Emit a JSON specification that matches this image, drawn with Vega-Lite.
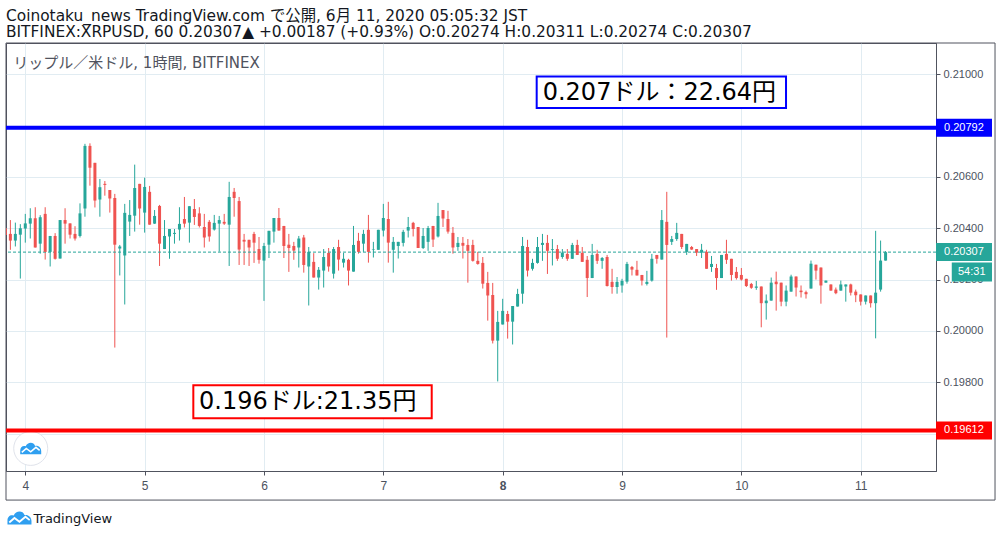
{
  "$schema": "https://vega.github.io/schema/vega-lite/v6.json",
  "width": 930,
  "height": 428,
  "autosize": "none",
  "padding": {"left": 6, "top": 43, "right": 66, "bottom": 66},
  "background": "#ffffff",
  "title": {
    "text": "Coinotaku_news TradingView.com で公開, 6月 11, 2020 05:05:32 JST",
    "subtitle": "BITFINEX:XRPUSD, 60 0.20307▲ +0.00187 (+0.93%) O:0.20274 H:0.20311 L:0.20274 C:0.20307",
    "anchor": "start",
    "frame": "group",
    "offset": 2,
    "font": "DejaVu Sans, Noto Sans CJK JP",
    "fontSize": 15.4,
    "fontWeight": "normal",
    "color": "#131722",
    "subtitleFont": "DejaVu Sans, Noto Sans CJK JP",
    "subtitleFontSize": 15.4,
    "subtitleColor": "#131722",
    "subtitlePadding": 1
  },
  "datasets": {
    "candles": [
      {"t":-4,"o":0.20400,"h":0.20406,"l":0.20370,"c":0.20374},
      {"t":-3,"o":0.20378,"h":0.20432,"l":0.20316,"c":0.20352},
      {"t":-2,"o":0.20352,"h":0.20422,"l":0.20329,"c":0.20378},
      {"t":-1,"o":0.20375,"h":0.20416,"l":0.20204,"c":0.20400},
      {"t":0,"o":0.20399,"h":0.20456,"l":0.20344,"c":0.20419},
      {"t":1,"o":0.20418,"h":0.20478,"l":0.20360,"c":0.20439},
      {"t":2,"o":0.20439,"h":0.20482,"l":0.20325,"c":0.20325},
      {"t":3,"o":0.20340,"h":0.20451,"l":0.20301,"c":0.20443},
      {"t":4,"o":0.20456,"h":0.20482,"l":0.20278,"c":0.20308},
      {"t":5,"o":0.20308,"h":0.20370,"l":0.20251,"c":0.20370},
      {"t":6,"o":0.20370,"h":0.20381,"l":0.20278,"c":0.20281},
      {"t":7,"o":0.20282,"h":0.20432,"l":0.20282,"c":0.20432},
      {"t":8,"o":0.20432,"h":0.20478,"l":0.20340,"c":0.20418},
      {"t":9,"o":0.20419,"h":0.20419,"l":0.20360,"c":0.20375},
      {"t":10,"o":0.20378,"h":0.20408,"l":0.20352,"c":0.20360},
      {"t":11,"o":0.20370,"h":0.20497,"l":0.20364,"c":0.20458},
      {"t":12,"o":0.20477,"h":0.20729,"l":0.20445,"c":0.20721},
      {"t":13,"o":0.20721,"h":0.20731,"l":0.20566,"c":0.20636},
      {"t":14,"o":0.20655,"h":0.20655,"l":0.20481,"c":0.20508},
      {"t":15,"o":0.20512,"h":0.20592,"l":0.20445,"c":0.20560},
      {"t":16,"o":0.20573,"h":0.20584,"l":0.20527,"c":0.20569},
      {"t":17,"o":0.20549,"h":0.20549,"l":0.20461,"c":0.20516},
      {"t":18,"o":0.20518,"h":0.20534,"l":0.19935,"c":0.20336},
      {"t":19,"o":0.20321,"h":0.20335,"l":0.20216,"c":0.20329},
      {"t":20,"o":0.20294,"h":0.20495,"l":0.20103,"c":0.20460},
      {"t":21,"o":0.20426,"h":0.20510,"l":0.20370,"c":0.20452},
      {"t":22,"o":0.20449,"h":0.20648,"l":0.20387,"c":0.20557},
      {"t":23,"o":0.20573,"h":0.20573,"l":0.20414,"c":0.20477},
      {"t":24,"o":0.20461,"h":0.20597,"l":0.20383,"c":0.20561},
      {"t":25,"o":0.20542,"h":0.20565,"l":0.20414,"c":0.20414},
      {"t":26,"o":0.20418,"h":0.20471,"l":0.20417,"c":0.20448},
      {"t":27,"o":0.20487,"h":0.20491,"l":0.20253,"c":0.20340},
      {"t":28,"o":0.20319,"h":0.20432,"l":0.20319,"c":0.20370},
      {"t":29,"o":0.20368,"h":0.20397,"l":0.20281,"c":0.20397},
      {"t":30,"o":0.20378,"h":0.20397,"l":0.20340,"c":0.20382},
      {"t":31,"o":0.20395,"h":0.20482,"l":0.20352,"c":0.20417},
      {"t":32,"o":0.20436,"h":0.20522,"l":0.20403,"c":0.20418},
      {"t":33,"o":0.20422,"h":0.20486,"l":0.20344,"c":0.20486},
      {"t":34,"o":0.20475,"h":0.20514,"l":0.20413,"c":0.20444},
      {"t":35,"o":0.20458,"h":0.20482,"l":0.20403,"c":0.20409},
      {"t":36,"o":0.20405,"h":0.20456,"l":0.20325,"c":0.20364},
      {"t":37,"o":0.20425,"h":0.20432,"l":0.20348,"c":0.20368},
      {"t":38,"o":0.20395,"h":0.20452,"l":0.20391,"c":0.20421},
      {"t":39,"o":0.20418,"h":0.20448,"l":0.20309,"c":0.20432},
      {"t":40,"o":0.20425,"h":0.20456,"l":0.20413,"c":0.20418},
      {"t":41,"o":0.20414,"h":0.20581,"l":0.20253,"c":0.20522},
      {"t":42,"o":0.20542,"h":0.20557,"l":0.20445,"c":0.20518},
      {"t":43,"o":0.20506,"h":0.20522,"l":0.20257,"c":0.20317},
      {"t":44,"o":0.20355,"h":0.20378,"l":0.20257,"c":0.20348},
      {"t":45,"o":0.20355,"h":0.20355,"l":0.20253,"c":0.20325},
      {"t":46,"o":0.20378,"h":0.20386,"l":0.20265,"c":0.20344},
      {"t":47,"o":0.20319,"h":0.20366,"l":0.20262,"c":0.20277},
      {"t":48,"o":0.20274,"h":0.20343,"l":0.20117,"c":0.20331},
      {"t":49,"o":0.20336,"h":0.20390,"l":0.20284,"c":0.20390},
      {"t":50,"o":0.20387,"h":0.20440,"l":0.20344,"c":0.20440},
      {"t":51,"o":0.20440,"h":0.20479,"l":0.20391,"c":0.20391},
      {"t":52,"o":0.20409,"h":0.20409,"l":0.20284,"c":0.20331},
      {"t":53,"o":0.20336,"h":0.20378,"l":0.20230,"c":0.20323},
      {"t":54,"o":0.20331,"h":0.20347,"l":0.20277,"c":0.20313},
      {"t":55,"o":0.20325,"h":0.20370,"l":0.20247,"c":0.20360},
      {"t":56,"o":0.20364,"h":0.20374,"l":0.20227,"c":0.20257},
      {"t":57,"o":0.20251,"h":0.20327,"l":0.20099,"c":0.20308},
      {"t":58,"o":0.20269,"h":0.20303,"l":0.20208,"c":0.20208},
      {"t":59,"o":0.20208,"h":0.20249,"l":0.20161,"c":0.20238},
      {"t":60,"o":0.20235,"h":0.20319,"l":0.20169,"c":0.20288},
      {"t":61,"o":0.20304,"h":0.20323,"l":0.20231,"c":0.20251},
      {"t":62,"o":0.20223,"h":0.20327,"l":0.20204,"c":0.20319},
      {"t":63,"o":0.20327,"h":0.20355,"l":0.20235,"c":0.20278},
      {"t":64,"o":0.20266,"h":0.20304,"l":0.20247,"c":0.20281},
      {"t":65,"o":0.20277,"h":0.20281,"l":0.20177,"c":0.20235},
      {"t":66,"o":0.20231,"h":0.20409,"l":0.20231,"c":0.20335},
      {"t":67,"o":0.20351,"h":0.20382,"l":0.20301,"c":0.20308},
      {"t":68,"o":0.20340,"h":0.20394,"l":0.20308,"c":0.20378},
      {"t":69,"o":0.20394,"h":0.20452,"l":0.20266,"c":0.20308},
      {"t":70,"o":0.20317,"h":0.20347,"l":0.20286,"c":0.20319},
      {"t":71,"o":0.20316,"h":0.20394,"l":0.20316,"c":0.20394},
      {"t":72,"o":0.20391,"h":0.20495,"l":0.20368,"c":0.20440},
      {"t":73,"o":0.20436,"h":0.20503,"l":0.20266,"c":0.20344},
      {"t":74,"o":0.20316,"h":0.20366,"l":0.20227,"c":0.20347},
      {"t":75,"o":0.20331,"h":0.20347,"l":0.20282,"c":0.20347},
      {"t":76,"o":0.20343,"h":0.20394,"l":0.20329,"c":0.20386},
      {"t":77,"o":0.20391,"h":0.20444,"l":0.20364,"c":0.20405},
      {"t":78,"o":0.20421,"h":0.20425,"l":0.20368,"c":0.20397},
      {"t":79,"o":0.20405,"h":0.20405,"l":0.20323,"c":0.20323},
      {"t":80,"o":0.20323,"h":0.20401,"l":0.20319,"c":0.20370},
      {"t":81,"o":0.20347,"h":0.20409,"l":0.20312,"c":0.20401},
      {"t":82,"o":0.20409,"h":0.20409,"l":0.20327,"c":0.20356},
      {"t":83,"o":0.20368,"h":0.20499,"l":0.20364,"c":0.20448},
      {"t":84,"o":0.20471,"h":0.20471,"l":0.20405,"c":0.20438},
      {"t":85,"o":0.20436,"h":0.20468,"l":0.20379,"c":0.20387},
      {"t":86,"o":0.20382,"h":0.20405,"l":0.20301,"c":0.20325},
      {"t":87,"o":0.20327,"h":0.20366,"l":0.20312,"c":0.20343},
      {"t":88,"o":0.20343,"h":0.20366,"l":0.20282,"c":0.20332},
      {"t":89,"o":0.20335,"h":0.20358,"l":0.20188,"c":0.20312},
      {"t":90,"o":0.20335,"h":0.20355,"l":0.20270,"c":0.20273},
      {"t":91,"o":0.20273,"h":0.20308,"l":0.20258,"c":0.20261},
      {"t":92,"o":0.20265,"h":0.20288,"l":0.20165,"c":0.20184},
      {"t":93,"o":0.20187,"h":0.20230,"l":0.20040,"c":0.20138},
      {"t":94,"o":0.20140,"h":0.20187,"l":0.19951,"c":0.19962},
      {"t":95,"o":0.19962,"h":0.20078,"l":0.19803,"c":0.20035},
      {"t":96,"o":0.20025,"h":0.20125,"l":0.20025,"c":0.20078},
      {"t":97,"o":0.20066,"h":0.20078,"l":0.19970,"c":0.20036},
      {"t":98,"o":0.20036,"h":0.20097,"l":0.19947,"c":0.20097},
      {"t":99,"o":0.20095,"h":0.20164,"l":0.20095,"c":0.20144},
      {"t":100,"o":0.20145,"h":0.20366,"l":0.20106,"c":0.20331},
      {"t":101,"o":0.20327,"h":0.20355,"l":0.20212,"c":0.20235},
      {"t":102,"o":0.20242,"h":0.20281,"l":0.20235,"c":0.20265},
      {"t":103,"o":0.20265,"h":0.20366,"l":0.20262,"c":0.20327},
      {"t":104,"o":0.20335,"h":0.20378,"l":0.20273,"c":0.20343},
      {"t":105,"o":0.20343,"h":0.20374,"l":0.20222,"c":0.20312},
      {"t":106,"o":0.20316,"h":0.20358,"l":0.20255,"c":0.20319},
      {"t":107,"o":0.20319,"h":0.20335,"l":0.20273,"c":0.20281},
      {"t":108,"o":0.20288,"h":0.20319,"l":0.20281,"c":0.20305},
      {"t":109,"o":0.20300,"h":0.20319,"l":0.20273,"c":0.20281},
      {"t":110,"o":0.20281,"h":0.20343,"l":0.20281,"c":0.20335},
      {"t":111,"o":0.20335,"h":0.20355,"l":0.20296,"c":0.20296},
      {"t":112,"o":0.20304,"h":0.20327,"l":0.20269,"c":0.20269},
      {"t":113,"o":0.20277,"h":0.20292,"l":0.20132,"c":0.20206},
      {"t":114,"o":0.20206,"h":0.20339,"l":0.20206,"c":0.20296},
      {"t":115,"o":0.20300,"h":0.20316,"l":0.20261,"c":0.20273},
      {"t":116,"o":0.20273,"h":0.20288,"l":0.20242,"c":0.20284},
      {"t":117,"o":0.20288,"h":0.20296,"l":0.20173,"c":0.20175},
      {"t":118,"o":0.20191,"h":0.20242,"l":0.20145,"c":0.20171},
      {"t":119,"o":0.20171,"h":0.20210,"l":0.20145,"c":0.20191},
      {"t":120,"o":0.20177,"h":0.20203,"l":0.20149,"c":0.20195},
      {"t":121,"o":0.20192,"h":0.20269,"l":0.20184,"c":0.20261},
      {"t":122,"o":0.20249,"h":0.20253,"l":0.20216,"c":0.20239},
      {"t":123,"o":0.20238,"h":0.20273,"l":0.20216,"c":0.20216},
      {"t":124,"o":0.20218,"h":0.20218,"l":0.20177,"c":0.20196},
      {"t":125,"o":0.20183,"h":0.20234,"l":0.20177,"c":0.20191},
      {"t":126,"o":0.20196,"h":0.20300,"l":0.20192,"c":0.20281},
      {"t":127,"o":0.20296,"h":0.20296,"l":0.20262,"c":0.20281},
      {"t":128,"o":0.20278,"h":0.20471,"l":0.20278,"c":0.20432},
      {"t":129,"o":0.20425,"h":0.20542,"l":0.19974,"c":0.20335},
      {"t":130,"o":0.20347,"h":0.20370,"l":0.20335,"c":0.20358},
      {"t":131,"o":0.20358,"h":0.20421,"l":0.20351,"c":0.20382},
      {"t":132,"o":0.20378,"h":0.20378,"l":0.20319,"c":0.20327},
      {"t":133,"o":0.20308,"h":0.20339,"l":0.20296,"c":0.20339},
      {"t":134,"o":0.20327,"h":0.20331,"l":0.20316,"c":0.20317},
      {"t":135,"o":0.20319,"h":0.20319,"l":0.20292,"c":0.20305},
      {"t":136,"o":0.20305,"h":0.20339,"l":0.20284,"c":0.20316},
      {"t":137,"o":0.20308,"h":0.20316,"l":0.20242,"c":0.20242},
      {"t":138,"o":0.20249,"h":0.20292,"l":0.20230,"c":0.20261},
      {"t":139,"o":0.20245,"h":0.20261,"l":0.20160,"c":0.20206},
      {"t":140,"o":0.20206,"h":0.20296,"l":0.20206,"c":0.20296},
      {"t":141,"o":0.20300,"h":0.20355,"l":0.20261,"c":0.20277},
      {"t":142,"o":0.20281,"h":0.20281,"l":0.20196,"c":0.20218},
      {"t":143,"o":0.20230,"h":0.20249,"l":0.20200,"c":0.20206},
      {"t":144,"o":0.20218,"h":0.20245,"l":0.20196,"c":0.20200},
      {"t":145,"o":0.20203,"h":0.20203,"l":0.20171,"c":0.20175},
      {"t":146,"o":0.20183,"h":0.20187,"l":0.20164,"c":0.20168},
      {"t":147,"o":0.20168,"h":0.20195,"l":0.20160,"c":0.20173},
      {"t":148,"o":0.20173,"h":0.20173,"l":0.20014,"c":0.20108},
      {"t":149,"o":0.20108,"h":0.20142,"l":0.20044,"c":0.20118},
      {"t":150,"o":0.20118,"h":0.20208,"l":0.20118,"c":0.20188},
      {"t":151,"o":0.20192,"h":0.20231,"l":0.20079,"c":0.20182},
      {"t":152,"o":0.20188,"h":0.20188,"l":0.20096,"c":0.20114},
      {"t":153,"o":0.20114,"h":0.20177,"l":0.20096,"c":0.20157},
      {"t":154,"o":0.20153,"h":0.20219,"l":0.20153,"c":0.20212},
      {"t":155,"o":0.20212,"h":0.20212,"l":0.20134,"c":0.20169},
      {"t":156,"o":0.20157,"h":0.20177,"l":0.20130,"c":0.20151},
      {"t":157,"o":0.20151,"h":0.20157,"l":0.20126,"c":0.20143},
      {"t":158,"o":0.20165,"h":0.20274,"l":0.20165,"c":0.20262},
      {"t":159,"o":0.20258,"h":0.20258,"l":0.20200,"c":0.20235},
      {"t":160,"o":0.20247,"h":0.20247,"l":0.20106,"c":0.20177},
      {"t":161,"o":0.20188,"h":0.20196,"l":0.20188,"c":0.20196},
      {"t":162,"o":0.20181,"h":0.20181,"l":0.20157,"c":0.20157},
      {"t":163,"o":0.20161,"h":0.20169,"l":0.20143,"c":0.20147},
      {"t":164,"o":0.20157,"h":0.20196,"l":0.20157,"c":0.20181},
      {"t":165,"o":0.20173,"h":0.20181,"l":0.20114,"c":0.20181},
      {"t":166,"o":0.20181,"h":0.20184,"l":0.20138,"c":0.20149},
      {"t":167,"o":0.20153,"h":0.20161,"l":0.20112,"c":0.20139},
      {"t":168,"o":0.20142,"h":0.20142,"l":0.20099,"c":0.20114},
      {"t":169,"o":0.20114,"h":0.20138,"l":0.20103,"c":0.20138},
      {"t":170,"o":0.20138,"h":0.20138,"l":0.20091,"c":0.20108},
      {"t":171,"o":0.20108,"h":0.20390,"l":0.19971,"c":0.20149},
      {"t":172,"o":0.20161,"h":0.20352,"l":0.20153,"c":0.20274},
      {"t":173,"o":0.20274,"h":0.20311,"l":0.20274,"c":0.20307}
    ],
    "levels": [
      {"price": 0.20792, "kind": "resistance", "label": "0.20792"},
      {"price": 0.19612, "kind": "support", "label": "0.19612"},
      {"price": 0.20307, "kind": "last", "label": "0.20307"}
    ],
    "notes": [
      {"text": "0.207ドル：22.64円", "kind": "resistance", "t0": 102.84, "t1": 152.98, "p0": 0.20869, "p1": 0.20991, "tx": 104.05, "py": 0.20927},
      {"text": "0.196ドル:21.35円", "kind": "support", "t0": 33.79, "t1": 81.73, "p0": 0.19660, "p1": 0.19788, "tx": 34.93, "py": 0.19724}
    ],
    "series": [
      {"text": "リップル／米ドル, 1時間, BITFINEX", "countdown": "54:31", "brand": "TradingView"}
    ]
  },
  "layer": [
    {
      "data": {"name": "candles"},
      "mark": {"type": "rule", "strokeWidth": 1, "clip": true},
      "encoding": {
        "x": {
          "field": "t", "type": "quantitative",
          "scale": {"domain": [-3.88, 183.14], "nice": false, "zero": false, "padding": 0},
          "axis": {
            "values": [0, 24, 48, 72, 96, 120, 144, 168],
            "labelExpr": "datum.value / 24 + 4",
            "grid": true, "gridColor": "#e1ecf2",
            "tickSize": 4, "tickColor": "#50535e",
            "domainColor": "#50535e",
            "labelPadding": 5, "labelFont": "Liberation Sans", "labelFontSize": 12, "labelColor": "#4c525e",
            "labelFontWeight": {"condition": {"test": "datum.value === 96", "value": "bold"}, "value": "normal"},
            "title": "TradingView", "titleX": 27, "titleY": 47, "titleAlign": "left", "titleBaseline": "middle",
            "titleFont": "DejaVu Sans", "titleFontSize": 13, "titleFontWeight": "normal", "titleColor": "#131722"
          }
        },
        "y": {
          "field": "l", "type": "quantitative",
          "scale": {"domain": [0.19454, 0.21122], "nice": false, "zero": false, "padding": 0},
          "axis": {
            "orient": "right",
            "values": [0.196, 0.198, 0.2, 0.202, 0.204, 0.206, 0.208, 0.21],
            "labelExpr": "datum.value == 0.208 || datum.value == 0.196 ? '' : format(datum.value, '.5f')",
            "grid": true, "gridColor": "#e1ecf2",
            "tickSize": 4, "tickColor": "#50535e",
            "domainColor": "#50535e",
            "labelPadding": 3, "labelFont": "Liberation Sans", "labelFontSize": 11, "labelColor": "#4c525e",
            "title": null
          }
        },
        "y2": {"field": "h"},
        "color": {"condition": {"test": "datum.c >= datum.o", "value": "#26a69a"}, "value": "#ef5350"}
      }
    },
    {
      "data": {"name": "series"},
      "mark": {"type": "rect", "filled": false, "stroke": "#50535e", "strokeWidth": 1},
      "encoding": {
        "x": {"datum": -3.88, "type": "quantitative"},
        "x2": {"datum": 195.01},
        "y": {"datum": 0.21122, "type": "quantitative"},
        "y2": {"datum": 0.193407}
      }
    },
    {
      "data": {"name": "series"},
      "mark": {"type": "point", "shape": "circle", "filled": true, "fill": "#ffffff", "stroke": "#e0e3eb", "strokeWidth": 1, "size": 1156, "opacity": 1},
      "encoding": {
        "x": {"datum": 1.09, "type": "quantitative"},
        "y": {"datum": 0.19542, "type": "quantitative"}
      }
    },
    {
      "data": {"name": "series"},
      "mark": {"type": "point", "shape": "M-1,0.55 L-1,0.2 C-1,-0.12 -0.75,-0.3 -0.48,-0.2 C-0.32,-0.62 0.28,-0.66 0.42,-0.24 C0.72,-0.3 1,-0.08 1,0.26 L1,0.55 Z", "filled": true, "fill": "#2f9ff0", "strokeWidth": 0, "size": 441, "opacity": 1},
      "encoding": {
        "x": {"datum": 1.09, "type": "quantitative"},
        "y": {"datum": 0.19542, "type": "quantitative"}
      }
    },
    {
      "data": {"name": "series"},
      "mark": {"type": "point", "shape": "M-0.85,0.38 L-0.42,0.0 L0.0,0.32 L0.5,-0.1 L0.85,0.18", "filled": false, "stroke": "#ffffff", "strokeWidth": 1.6, "size": 441, "opacity": 1},
      "encoding": {
        "x": {"datum": 1.09, "type": "quantitative"},
        "y": {"datum": 0.19542, "type": "quantitative"}
      }
    },
    {
      "data": {"name": "levels"},
      "mark": {"type": "rule"},
      "encoding": {
        "y": {"field": "price", "type": "quantitative"},
        "color": {"field": "kind", "type": "nominal", "scale": {"domain": ["resistance", "support", "last"], "range": ["#0000ff", "#ff0000", "#26a69a"]}, "legend": null},
        "strokeWidth": {"condition": {"test": "datum.kind === 'last'", "value": 1}, "value": 4},
        "strokeDash": {"condition": {"test": "datum.kind === 'last'", "value": [3, 2]}, "value": [1, 0]}
      }
    },
    {
      "data": {"name": "candles"},
      "mark": {"type": "bar", "size": 3, "clip": true},
      "encoding": {
        "x": {"field": "t", "type": "quantitative"},
        "y": {"field": "o", "type": "quantitative"},
        "y2": {"field": "c"},
        "color": {"condition": {"test": "datum.c >= datum.o", "value": "#26a69a"}, "value": "#ef5350"}
      }
    },
    {
      "data": {"name": "notes"},
      "mark": {"type": "rect", "fill": "#ffffff", "strokeWidth": 2},
      "encoding": {
        "x": {"field": "t0", "type": "quantitative"},
        "x2": {"field": "t1"},
        "y": {"field": "p0", "type": "quantitative"},
        "y2": {"field": "p1"},
        "stroke": {"field": "kind", "type": "nominal", "scale": {"domain": ["resistance", "support", "last"], "range": ["#0000ff", "#ff0000", "#26a69a"]}, "legend": null}
      }
    },
    {
      "data": {"name": "notes"},
      "mark": {"type": "text", "align": "left", "baseline": "middle", "font": "DejaVu Sans, Noto Sans CJK JP", "fontSize": 24, "color": "#000000"},
      "encoding": {
        "x": {"field": "tx", "type": "quantitative"},
        "y": {"field": "py", "type": "quantitative"},
        "text": {"field": "text"}
      }
    },
    {
      "data": {"name": "series"},
      "mark": {"type": "text", "align": "left", "baseline": "middle", "font": "DejaVu Sans, Noto Sans CJK JP", "fontSize": 15, "color": "#50535e"},
      "encoding": {
        "x": {"datum": -2.41, "type": "quantitative"},
        "y": {"datum": 0.21043, "type": "quantitative"},
        "text": {"field": "text"}
      }
    },
    {
      "data": {"name": "levels"},
      "mark": {"type": "rect", "yOffset": -9, "y2Offset": 9},
      "encoding": {
        "x": {"datum": 183.14, "type": "quantitative"},
        "x2": {"datum": 194.4},
        "y": {"field": "price", "type": "quantitative"},
        "y2": {"field": "price"},
        "color": {"field": "kind", "type": "nominal", "legend": null}
      }
    },
    {
      "data": {"name": "levels"},
      "mark": {"type": "text", "align": "left", "baseline": "middle", "font": "Liberation Sans", "fontSize": 11, "color": "#ffffff"},
      "encoding": {
        "x": {"datum": 184.76, "type": "quantitative"},
        "y": {"field": "price", "type": "quantitative"},
        "text": {"field": "label"}
      }
    },
    {
      "data": {"name": "series"},
      "mark": {"type": "rect", "fill": "#26a69a", "yOffset": 10.5, "y2Offset": 29.5},
      "encoding": {
        "x": {"datum": 186.31, "type": "quantitative"},
        "x2": {"datum": 194.4},
        "y": {"datum": 0.20307, "type": "quantitative"},
        "y2": {"datum": 0.20307}
      }
    },
    {
      "data": {"name": "series"},
      "mark": {"type": "text", "align": "center", "baseline": "middle", "dy": 20, "font": "Liberation Sans", "fontSize": 11, "color": "#ffffff"},
      "encoding": {
        "x": {"datum": 190.33, "type": "quantitative"},
        "y": {"datum": 0.20307, "type": "quantitative"},
        "text": {"field": "countdown"}
      }
    },
    {
      "data": {"name": "series"},
      "mark": {"type": "point", "shape": "M-1,0.55 L-1,0.2 C-1,-0.12 -0.75,-0.3 -0.48,-0.2 C-0.32,-0.62 0.28,-0.66 0.42,-0.24 C0.72,-0.3 1,-0.08 1,0.26 L1,0.55 Z", "filled": true, "fill": "#2f9ff0", "strokeWidth": 0, "size": 576, "opacity": 1},
      "encoding": {
        "x": {"datum": -1.17, "type": "quantitative"},
        "y": {"datum": 0.19271, "type": "quantitative"}
      }
    },
    {
      "data": {"name": "series"},
      "mark": {"type": "point", "shape": "M-0.85,0.38 L-0.42,0.0 L0.0,0.32 L0.5,-0.1 L0.85,0.18", "filled": false, "stroke": "#ffffff", "strokeWidth": 1.8, "size": 576, "opacity": 1},
      "encoding": {
        "x": {"datum": -1.17, "type": "quantitative"},
        "y": {"datum": 0.19271, "type": "quantitative"}
      }
    }
  ],
  "config": {
    "view": {"stroke": "#50535e", "strokeWidth": 1},
    "font": "DejaVu Sans, Noto Sans CJK JP"
  }
}
